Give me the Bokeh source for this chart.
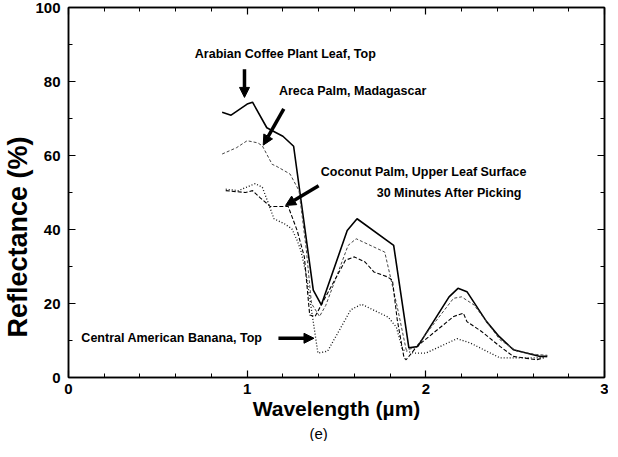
import math
from bokeh.plotting import figure
from bokeh.models import Label, Arrow, NormalHead, LinearAxis, FixedTicker, CustomJSTickFormatter, Range1d, Title
from bokeh.embed import file_html
from bokeh.resources import INLINE

# ---- data (wavelength in micrometres, reflectance in %) ----
arabian_x = [0.86, 0.91, 1.00, 1.03, 1.11, 1.165, 1.20, 1.26, 1.37, 1.415, 1.56, 1.615, 1.82, 1.905, 1.955, 2.13, 2.18, 2.23, 2.34, 2.41, 2.49, 2.64, 2.68]
arabian_y = [71.7, 70.9, 73.9, 74.4, 67.5, 66.1, 65.2, 62.5, 23.6, 19.6, 39.7, 42.9, 35.7, 8.0, 8.4, 21.8, 24.1, 23.2, 15.1, 11.1, 7.5, 5.7, 5.7]

areca_x = [0.86, 0.94, 1.00, 1.06, 1.085, 1.14, 1.16, 1.24, 1.29, 1.33, 1.36, 1.405, 1.44, 1.565, 1.61, 1.77, 1.84, 1.89, 1.94, 2.155, 2.20, 2.27, 2.415, 2.51, 2.62, 2.68]
areca_y = [60.4, 62.1, 64.0, 63.4, 62.6, 57.6, 57.2, 55.0, 50.5, 35.0, 20.0, 16.5, 19.5, 35.7, 37.5, 33.9, 19.1, 7.5, 8.0, 21.4, 21.8, 19.6, 10.2, 7.1, 6.2, 6.0]

coconut_x = [0.88, 0.99, 1.03, 1.07, 1.13, 1.23, 1.28, 1.32, 1.35, 1.38, 1.55, 1.60, 1.66, 1.71, 1.785, 1.813, 1.84, 1.878, 1.89, 1.95, 2.156, 2.21, 2.23, 2.31, 2.415, 2.49, 2.62, 2.66]
coconut_y = [50.5, 50.0, 50.5, 48.7, 46.2, 46.2, 39.7, 32.6, 16.9, 16.5, 31.7, 32.6, 31.2, 28.5, 27.2, 26.3, 15.6, 5.3, 4.8, 8.4, 16.5, 17.4, 15.1, 12.5, 8.4, 5.7, 4.8, 5.3]

banana_x = [0.88, 0.95, 1.045, 1.085, 1.12, 1.15, 1.21, 1.25, 1.28, 1.30, 1.33, 1.396, 1.45, 1.58, 1.64, 1.79, 1.835, 1.87, 1.93, 2.00, 2.175, 2.25, 2.415, 2.62, 2.68]
banana_y = [50.9, 50.5, 52.4, 51.4, 46.9, 42.9, 41.5, 40.2, 37.0, 34.4, 28.0, 6.6, 7.1, 18.3, 19.8, 16.3, 13.6, 7.5, 6.6, 6.6, 10.5, 9.3, 5.3, 5.3, 5.7]

x_major = [0, 1, 2, 3]
x_minor = [i / 5 for i in range(16)]
y_major = [0, 20, 40, 60, 80, 100]
y_minor = [i * 10 for i in range(11)]

labels = [
    ("Arabian Coffee Plant Leaf, Top", 0.707, 87.3),
    ("Areca Palm, Madagascar", 1.178, 77.5),
    ("Coconut Palm, Upper Leaf Surface", 1.412, 55.5),
    ("30 Minutes After Picking", 1.725, 49.8),
    ("Central American Banana, Top", 0.072, 10.8),
]
arrows = [  # (x_start, y_start, x_end, y_end)
    (0.985, 83.3, 0.985, 75.7),
    (1.205, 72.6, 1.09, 62.8),
    (1.40, 51.8, 1.215, 46.5),
    (1.175, 10.6, 1.374, 10.6),
]

FONT = "Liberation Sans"

p = figure(width=608, height=441, x_range=Range1d(0, 3), y_range=Range1d(0, 100),
           output_backend="svg", toolbar_location=None,
           min_border_left=64, min_border_right=4, min_border_top=7, min_border_bottom=62)
p.xgrid.visible = False
p.ygrid.visible = False
p.outline_line_color = "black"
p.outline_line_width = 1.5
p.background_fill_color = "white"
p.border_fill_color = "white"

xt = FixedTicker(ticks=x_major, minor_ticks=x_minor)
yt = FixedTicker(ticks=y_major, minor_ticks=y_minor)

def style_axis(ax, show_labels):
    ax.axis_line_color = "black"
    ax.axis_line_width = 1.5
    ax.major_tick_in = 7
    ax.major_tick_out = 0
    ax.minor_tick_in = 4
    ax.minor_tick_out = 0
    ax.major_tick_line_color = "black"
    ax.minor_tick_line_color = "black"
    ax.major_tick_line_width = 1.2
    ax.minor_tick_line_width = 1
    if show_labels:
        ax.major_label_text_font = FONT
        ax.major_label_text_font_style = "bold"
        ax.major_label_text_font_size = "15px"
        ax.major_label_text_color = "black"
    else:
        ax.formatter = CustomJSTickFormatter(code="return ''")
        ax.major_label_text_font_size = "0px"
        ax.major_label_standoff = 0

p.xaxis.ticker = xt
p.yaxis.ticker = yt
style_axis(p.xaxis[0], True)
style_axis(p.yaxis[0], True)
p.xaxis.major_label_standoff = 6
p.yaxis.major_label_standoff = 8
p.xaxis.axis_label = "Wavelength (µm)"
p.xaxis.axis_label_text_font = FONT
p.xaxis.axis_label_text_font_style = "bold"
p.xaxis.axis_label_text_font_size = "21px"
p.xaxis.axis_label_standoff = 0
p.xaxis.axis_label_text_color = "black"

top_ax = LinearAxis(ticker=xt)
style_axis(top_ax, False)
p.add_layout(top_ax, "above")
right_ax = LinearAxis(ticker=yt)
style_axis(right_ax, False)
p.add_layout(right_ax, "right")

# y-axis title, shifted below the frame centre as in the reference
p.add_layout(Title(text="Reflectance (%)", align="left", offset=40, standoff=0, text_font=FONT,
                   text_font_style="bold", text_font_size="27px", text_color="black"), "left")
# panel caption
p.add_layout(Title(text="(e)", align="left", offset=241, standoff=0, text_font=FONT,
                   text_font_style="normal", text_font_size="15px", text_color="black"), "below")

p.line(arabian_x, arabian_y, line_color="black", line_width=1.6)
p.line(areca_x, areca_y, line_color="#444444", line_width=1.0, line_dash="3 2")
p.line(coconut_x, coconut_y, line_color="black", line_width=1.1, line_dash="4 2")
p.line(banana_x, banana_y, line_color="#111111", line_width=1.3, line_dash="1 2")

for txt, lx, ly in labels:
    p.add_layout(Label(x=lx, y=ly, text=txt, text_font=FONT, text_font_style="bold",
                       text_font_size="12.5px", text_align="left", text_baseline="middle",
                       text_color="black"))

for xs, ys, xe, ye in arrows:
    p.add_layout(Arrow(x_start=xs, y_start=ys, x_end=xe, y_end=ye, line_width=3.5, line_color="black",
                       end=NormalHead(size=10, fill_color="black", line_color="black", line_width=1)))

open("out.html", "w").write(file_html(p, INLINE))
